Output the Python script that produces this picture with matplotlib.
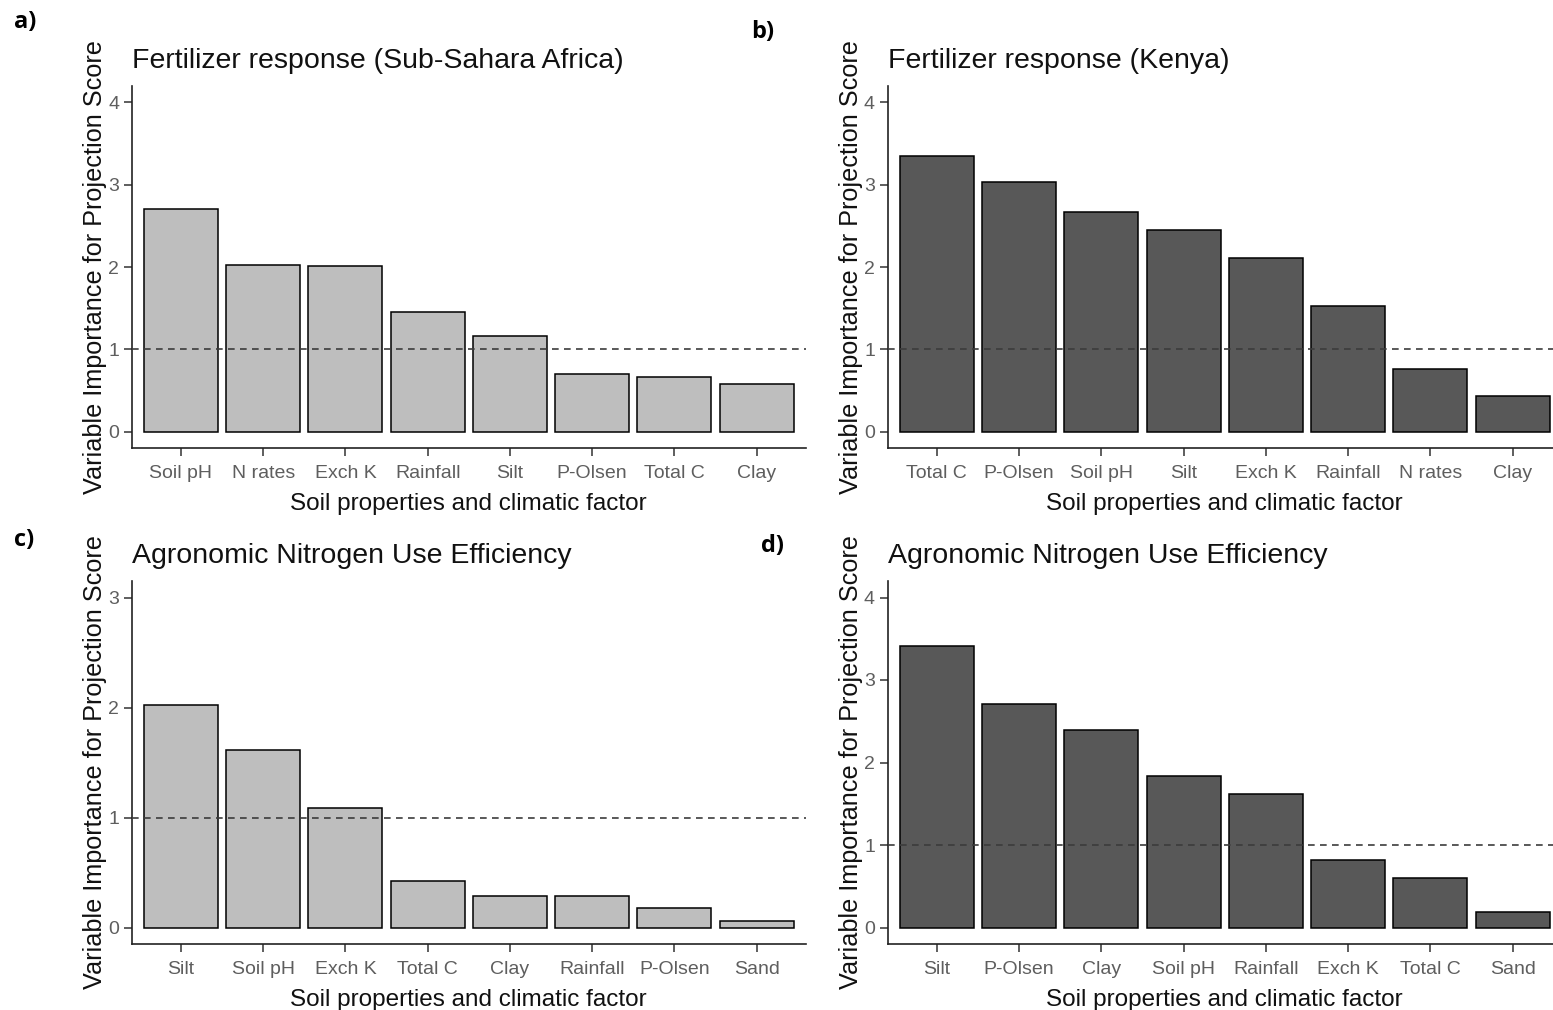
import matplotlib.pyplot as plt

plt.rcParams['font.family'] = ['Liberation Sans', 'DejaVu Sans']

# VIP scores per panel
labels_a = ['Soil pH', 'N rates', 'Exch K', 'Rainfall', 'Silt', 'P-Olsen', 'Total C', 'Clay']
vip_a = [2.71, 2.03, 2.01, 1.45, 1.16, 0.70, 0.66, 0.58]

labels_b = ['Total C', 'P-Olsen', 'Soil pH', 'Silt', 'Exch K', 'Rainfall', 'N rates', 'Clay']
vip_b = [3.35, 3.03, 2.67, 2.45, 2.11, 1.53, 0.76, 0.43]

labels_c = ['Silt', 'Soil pH', 'Exch K', 'Total C', 'Clay', 'Rainfall', 'P-Olsen', 'Sand']
vip_c = [2.02, 1.61, 1.09, 0.42, 0.29, 0.29, 0.18, 0.06]

labels_d = ['Silt', 'P-Olsen', 'Clay', 'Soil pH', 'Rainfall', 'Exch K', 'Total C', 'Sand']
vip_d = [3.41, 2.71, 2.39, 1.84, 1.62, 0.82, 0.60, 0.19]

titles = ['Fertilizer response (Sub-Sahara Africa)', 'Fertilizer response (Kenya)',
          'Agronomic Nitrogen Use Efficiency', 'Agronomic Nitrogen Use Efficiency']
tags = ['a)', 'b)', 'c)', 'd)']
ymax = [4, 4, 3, 4]

light = '#bebebe'
dark = '#585858'

W, H = 1553, 1010
fig = plt.figure(figsize=(W / 100, H / 100), dpi=100)


def px_axes(x0, y_top, x1, y_bot):
    return fig.add_axes([x0 / W, 1 - y_bot / H, (x1 - x0) / W, (y_bot - y_top) / H])


axes = [
    px_axes(131.6, 86, 806, 448),
    px_axes(887.5, 86, 1562, 448),
    px_axes(131.6, 581, 806, 944),
    px_axes(887.5, 581, 1562, 944),
]

data = [(labels_a, vip_a, light), (labels_b, vip_b, dark),
        (labels_c, vip_c, light), (labels_d, vip_d, dark)]

for ax, (labs, vals, col), title, top in zip(axes, data, titles, ymax):
    x = range(len(labs))
    ax.bar(x, vals, width=0.9, color=col, edgecolor='black', linewidth=1.1, zorder=2)
    ax.axhline(1, color='#3c3c3c', linestyle=(0, (4, 3.2)), linewidth=1.2, zorder=3)
    ax.set_xlim(-0.6, len(labs) - 0.4)
    ax.set_ylim(-0.05 * top, 1.05 * top)
    ax.set_yticks(range(top + 1))
    ax.set_xticks(list(x))
    ax.set_xticklabels(labs)
    for s in ['top', 'right']:
        ax.spines[s].set_visible(False)
    for s in ['left', 'bottom']:
        ax.spines[s].set_color('#222222')
        ax.spines[s].set_linewidth(1.2)
    ax.tick_params(axis='both', colors='#333333', labelcolor='#5e5e5e',
                   labelsize=14, length=6, width=1.1)
    ax.tick_params(axis='x', pad=6)
    ax.tick_params(axis='y', pad=3)
    ax.set_title(title, loc='left', fontsize=20.5, color='#111111', pad=13)
    ax.set_xlabel('Soil properties and climatic factor', fontsize=17.5,
                  color='#111111', labelpad=8)
    ax.set_ylabel('Variable Importance for Projection Score', fontsize=18.2,
                  color='#111111', labelpad=1)

tag_pos = [(14, 22), (751, 32), (14, 540), (761, 546)]
for t, (tx, ty) in zip(tags, tag_pos):
    fig.text(tx / W, 1 - ty / H, t, fontsize=17, fontweight='bold',
             family=['Open Sans', 'DejaVu Sans'], va='center', ha='left')

fig.savefig('out.png', dpi=100)
